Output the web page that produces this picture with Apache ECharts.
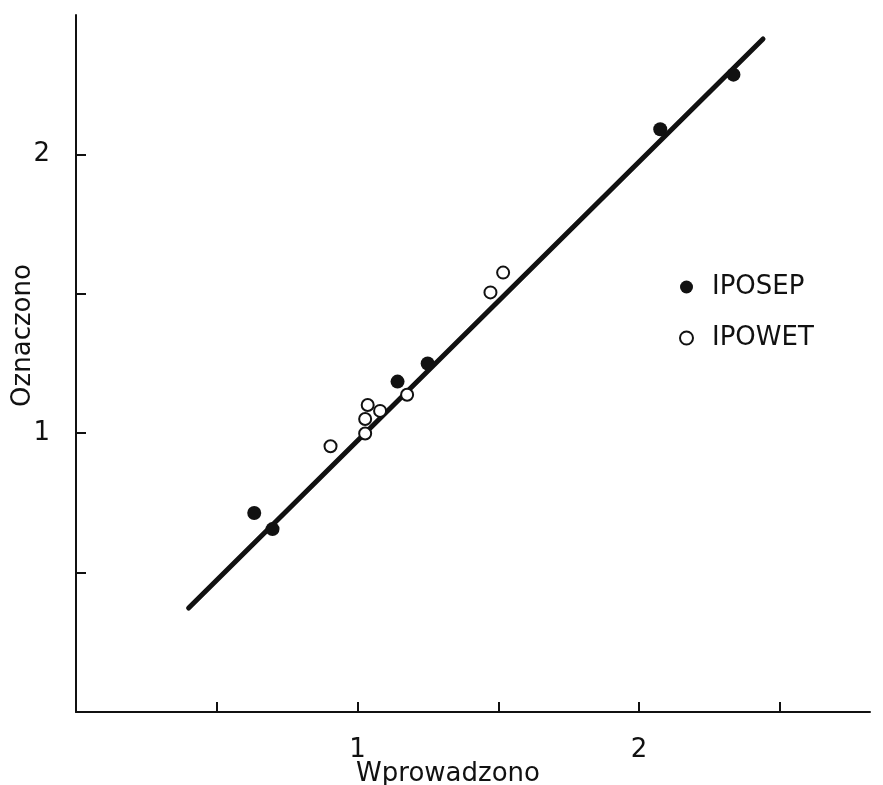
<!DOCTYPE html>
<html>
<head>
<meta charset="utf-8">
<script src="https://cdn.jsdelivr.net/npm/echarts@6/dist/echarts.min.js"></script>
<style>
  html, body { margin: 0; padding: 0; background: #fff; }
  #chart { width: 883px; height: 785px; }
</style>
</head>
<body>
<div id="chart"></div>
<script>
// IPOSEP — wartości wprowadzone / oznaczone (punkty pełne)
const seX = [0.633, 0.698, 1.142, 1.249, 2.075, 2.335]
const seY = [0.714, 0.656, 1.185, 1.250, 2.090, 2.286]
// IPOWET (punkty puste)
const weX = [0.904, 1.027, 1.027, 1.036, 1.080, 1.176, 1.472, 1.517]
const weY = [0.953, 0.999, 1.051, 1.101, 1.080, 1.138, 1.505, 1.576]
// linia dopasowania
const fitX = [0.40, 2.44]
const fitY = [0.373, 2.414]
// podziałki osi
const xTicks = [0.5, 1, 1.5, 2, 2.5]
const xLabels = [1, 2]
const yTicks = [0.5, 1, 1.5, 2]
const yLabels = [1, 2]

const ink = '#111'
const font = 'DejaVu Sans'
const pairs = (xs, ys) => xs.map((x, i) => [x, ys[i]])

const chart = echarts.init(document.getElementById('chart'))
chart.setOption({
  animation: false,
  textStyle: { fontFamily: font, color: ink },
  grid: { left: 76, right: 13, top: 15, bottom: 73, containLabel: false, outerBoundsMode: 'none' },
  legend: {
    orient: 'vertical', left: 674, top: 269, itemGap: 25,
    itemWidth: 13, itemHeight: 13,
    textStyle: { fontSize: 26, color: ink, fontFamily: font, padding: [0, 0, 0, 14] },
    data: ['IPOSEP', 'IPOWET']
  },
  xAxis: {
    type: 'value', min: 0, max: 2.82,
    name: 'Wprowadzono', nameLocation: 'middle', nameGap: 49, nameMoveOverlap: false,
    nameTextStyle: { fontSize: 26, color: ink, padding: [0, 50, 0, 0] },
    axisLine: { lineStyle: { color: ink, width: 2 } },
    axisTick: { inside: true, length: 10, customValues: xTicks, lineStyle: { color: ink, width: 2 } },
    axisLabel: { customValues: xLabels, fontSize: 26, color: ink, margin: 25 },
    splitLine: { show: false }
  },
  yAxis: {
    type: 'value', min: 0, max: 2.5,
    name: 'Oznaczono', nameLocation: 'middle', nameGap: 40, nameMoveOverlap: false,
    nameTextStyle: { fontSize: 26, color: ink, padding: [0, 0, 0, 56] },
    axisLine: { lineStyle: { color: ink, width: 2 } },
    axisTick: { inside: true, length: 10, customValues: yTicks, lineStyle: { color: ink, width: 2 } },
    axisLabel: { customValues: yLabels, fontSize: 26, color: ink, margin: 26 },
    splitLine: { show: false }
  },
  series: [
    {
      name: 'fit', type: 'line', data: pairs(fitX, fitY),
      symbol: 'none', lineStyle: { color: ink, width: 5, cap: 'round' }, z: 2
    },
    {
      name: 'IPOSEP', type: 'scatter', data: pairs(seX, seY),
      symbol: 'circle', symbolSize: 14, itemStyle: { color: ink, opacity: 1 }, z: 3
    },
    {
      name: 'IPOWET', type: 'scatter', data: pairs(weX, weY),
      symbol: 'circle', symbolSize: 12,
      itemStyle: { color: '#fff', borderColor: ink, borderWidth: 2, opacity: 1 }, z: 4
    }
  ]
})
</script>
</body>
</html>
